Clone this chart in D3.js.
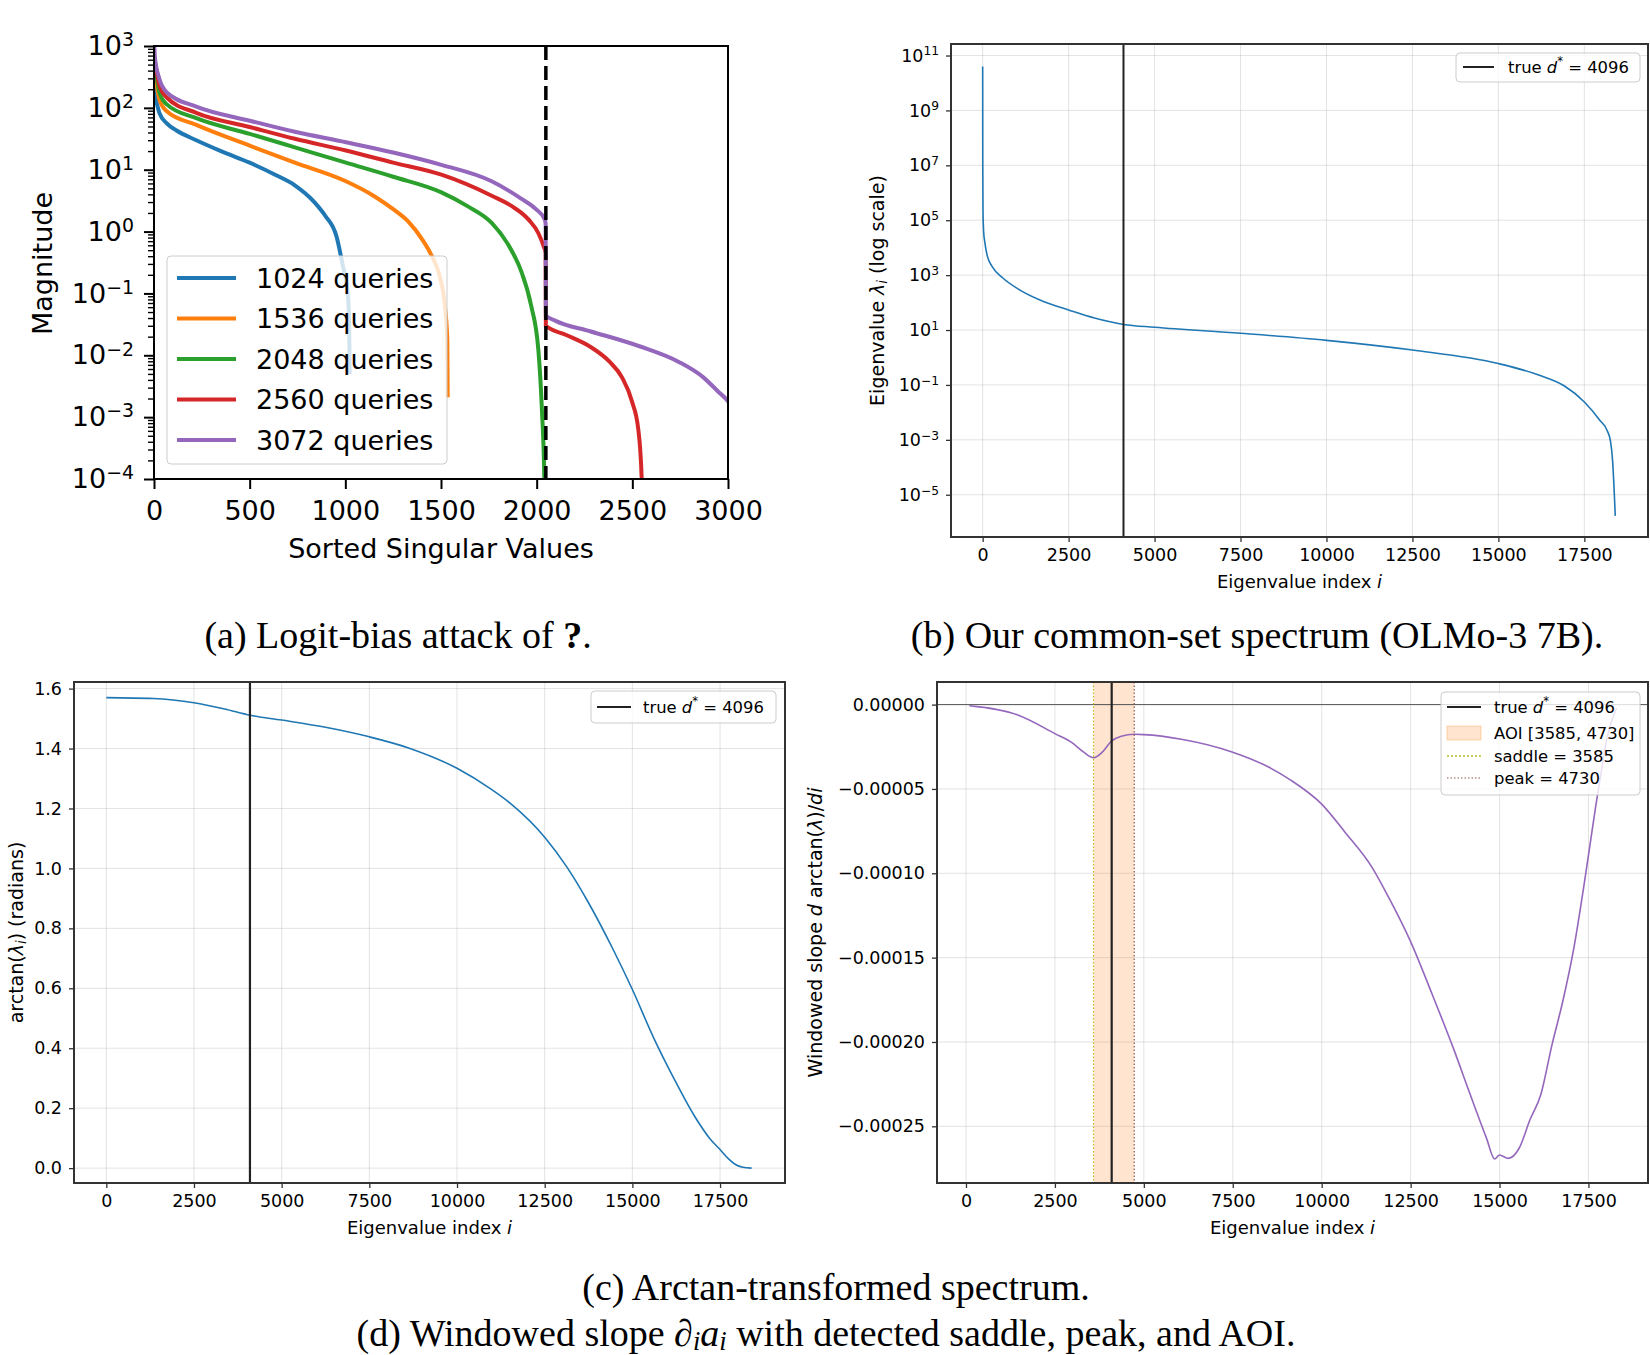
<!DOCTYPE html>
<html>
<head>
<meta charset="utf-8">
<title>Spectrum figure</title>
<script src="https://cdnjs.cloudflare.com/ajax/libs/d3/7.8.5/d3.min.js"></script>
<style>
body { margin: 0; background: #fff; }
svg { display: block; font-family: "DejaVu Sans", sans-serif; }
.grid { stroke: #b0b0b0; stroke-opacity: 0.35; stroke-width: 1; }
.cap { font-family: "Liberation Serif", "Times New Roman", serif; font-size: 38px; fill: #000; }
</style>
</head>
<body>
<svg id="fig" width="1650" height="1355"></svg>
<script>

/* ---------- data ---------- */

// (a) sorted singular values, one list of [index, magnitude] per query budget
var queryLabels = ["1024 queries", "1536 queries", "2048 queries", "2560 queries", "3072 queries"];
var queryColors = ["#1f77b4", "#ff7f0e", "#2ca02c", "#d62728", "#9467bd"];
var sv1024 = [[0,300],[5,160],[10,137],[28,83],[67,56],[118,43],[221,30],[350,20],[500,13],[633,8.3],[736,5.6],[838,3.0],[895,1.8],[954,0.83],[985,0.3],[1013,0.1],[1020,0.03],[1023,0.005]];
var sv1536 = [[0,500],[5,383],[28,137],[67,88],[221,53],[500,24.5],[736,13],[1003,6.5],[1147,3.8],[1250,2.3],[1327,1.47],[1405,0.72],[1456,0.38],[1495,0.18],[1520,0.064],[1533,0.018],[1535,0.0021]];
var sv2048 = [[0,600],[5,490],[28,178],[67,114],[221,68],[500,38],[736,23],[1003,13],[1250,7.7],[1502,4.3],[1636,2.6],[1765,1.38],[1868,0.5],[1919,0.23],[1971,0.064],[2009,0.012],[2027,0.0014],[2040,0.0001],[2047,0.000001]];
var sv2560 = [[0,700],[5,562],[28,230],[67,147],[221,83],[500,49],[736,31.6],[1003,20.4],[1250,13],[1502,8.3],[1765,3.8],[1868,2.6],[1958,1.56],[2009,0.94],[2038,0.56],[2047,0.45],[2048,0.03],[2151,0.0215],[2279,0.0138],[2382,0.0078],[2446,0.0044],[2498,0.0018],[2531,0.00064],[2549,0.0001],[2559,0.000001]];
var sv3072 = [[0,1500],[5,640],[28,295],[67,178],[221,105],[500,62],[736,41],[1003,27.8],[1250,19],[1502,12],[1765,6.5],[1919,3.4],[1996,2.3],[2043,1.56],[2047,1.3],[2048,0.044],[2099,0.036],[2279,0.0245],[2537,0.014],[2743,0.0078],[2871,0.0044],[2948,0.0026],[3000,0.0018],[3071,0.0007]];
var aXTicks = [0, 500, 1000, 1500, 2000, 2500, 3000];
var aYExps = [-4, -3, -2, -1, 0, 1, 2, 3];
var aCut = 2048;

// (b) eigenvalue spectrum [index, eigenvalue]
var eigSpectrum = [[0,4e10],[3,1e7],[10,2e5],[30,3.5e4],[59,1.7e4],[134,5e3],[282,2e3],[579,800],[1024,316],[1767,110],[2500,54],[3252,27.5],[4096,16],[5000,12.6],[7500,7.6],[10000,4.2],[12500,1.86],[15000,0.6],[16170,0.23],[16912,0.093],[17500,0.024],[17950,0.0052],[18170,0.0021],[18260,0.0009],[18320,1.9e-4],[18366,1.6e-5],[18400,1.7e-6]];
var bYExps = [11, 9, 7, 5, 3, 1, -1, -3, -5];

// (c) arctan of the spectrum [index, radians]
var arctanSpectrum = [[0,1.570],[1339,1.567],[2500,1.553],[3377,1.532],[4105,1.511],[5000,1.495],[6289,1.470],[7500,1.439],[8618,1.402],[10000,1.334],[10950,1.266],[11530,1.216],[12500,1.104],[13130,1.005],[13713,0.893],[14441,0.732],[15000,0.596],[15610,0.434],[16190,0.298],[16770,0.174],[17200,0.100],[17500,0.062],[17750,0.030],[17940,0.012],[18150,0.003],[18400,0.0]];
var cYTicks = [0, 0.2, 0.4, 0.6, 0.8, 1.0, 1.2, 1.4, 1.6];

// (d) windowed slope [index, slope]
var windowedSlope = [[95,-0.0000007],[1456,-0.0000062],[2500,-0.0000172],[2988,-0.0000227],[3300,-0.000028],[3585,-0.0000315],[3831,-0.0000282],[4091,-0.0000216],[4367,-0.0000187],[4730,-0.0000176],[5000,-0.0000178],[6053,-0.0000205],[7500,-0.0000282],[8505,-0.000037],[9118,-0.0000446],[10000,-0.000059],[10650,-0.0000755],[11416,-0.0000965],[11876,-0.000114],[12500,-0.0001405],[13100,-0.0001714],[13714,-0.0002044],[14173,-0.000231],[14633,-0.000257],[14862,-0.0002694],[15000,-0.000267],[15245,-0.000269],[15551,-0.000263],[15858,-0.000246],[16164,-0.000231],[16471,-0.000202],[16777,-0.000176],[17084,-0.000145],[17390,-0.000105],[17697,-0.0000612],[17850,-0.000041],[18004,-0.0000216],[18290,-0.000002]];
var dYTicks = [0, -0.00005, -0.0001, -0.00015, -0.0002, -0.00025];

var eigXTicks = [0, 2500, 5000, 7500, 10000, 12500, 15000, 17500];
var trueD = 4096;
var saddle = 3585, peak = 4730;

/* ---------- helpers ---------- */

var svg = d3.select("#fig");
var TICK = 17.5, TITLE_X = 18, TITLE_Y = 19, LEG = 16.4;

// text with italic / sub / sup pieces
function rich(sel, parts, fs, subK, supK) {
  var shift = 0;
  subK = subK || 0.25; supK = supK || 0.36;
  parts.forEach(function(p) {
    var ts = sel.append("tspan").text(p.t);
    var target = p.sub ? fs * subK : (p.sup ? -fs * supK : 0);
    if (target !== shift) { ts.attr("dy", target - shift); shift = target; }
    if (p.sub || p.sup) ts.style("font-size", (fs * 0.7) + "px");
    if (p.i) ts.style("font-style", "italic");
    if (p.b) ts.style("font-weight", "bold");
  });
}

function styleAxis(ax, fs, sw, col) {
  ax.attr("font-size", null).attr("font-family", null);
  ax.select(".domain").remove();
  ax.selectAll(".tick line").attr("stroke", col || "#333").attr("stroke-width", sw);
  ax.selectAll(".tick text").attr("fill", "#000").style("font-size", fs + "px");
}

function expLabel(e) { return String(e).replace("-", "\u2212"); }

function legendBox(g, x, y, w, h) {
  g.append("rect").attr("x", x).attr("y", y).attr("width", w).attr("height", h).attr("rx", 4)
    .attr("fill", "#fff").attr("fill-opacity", 0.8).attr("stroke", "#cccccc").attr("stroke-width", 1);
}

var dStar = [{t: "true "}, {t: "d", i: true}, {t: "*", sup: true}, {t: " = 4096"}];
var idxTitle = [{t: "Eigenvalue index "}, {t: "i", i: true}];

// matplotlib-like panel: grid, ticks; returns groups for drawing
function panel(p, xS, yS, xTicks, yTicks, yFmt, id) {
  var g = svg.append("g").attr("transform", "translate(" + p.x + "," + p.y + ")");
  g.append("clipPath").attr("id", id).append("rect").attr("width", p.w).attr("height", p.h);
  var grid = g.append("g");
  grid.selectAll(".gx").data(xTicks).join("line").attr("class", "grid")
    .attr("x1", function(d) { return xS(d); }).attr("x2", function(d) { return xS(d); })
    .attr("y1", 0).attr("y2", p.h);
  grid.selectAll(".gy").data(yTicks).join("line").attr("class", "grid")
    .attr("y1", function(d) { return yS(d); }).attr("y2", function(d) { return yS(d); })
    .attr("x1", 0).attr("x2", p.w);
  var data = g.append("g").attr("clip-path", "url(#" + id + ")");
  var ax = g.append("g").attr("transform", "translate(0," + p.h + ")")
    .call(d3.axisBottom(xS).tickValues(xTicks).tickFormat(d3.format("d")).tickSize(5).tickPadding(7));
  styleAxis(ax, TICK, 1.3);
  var ay = g.append("g").call(d3.axisLeft(yS).tickValues(yTicks).tickFormat(yFmt).tickSize(5).tickPadding(7));
  styleAxis(ay, TICK, 1.3);
  return {g: g, data: data, ay: ay, p: p};
}

function frame(P) {
  P.g.append("rect").attr("width", P.p.w).attr("height", P.p.h)
    .attr("fill", "none").attr("stroke", "#333").attr("stroke-width", 2);
}

function xTitle(P, parts) {
  rich(P.g.append("text").attr("x", P.p.w / 2).attr("y", P.p.h + 44)
    .attr("text-anchor", "middle").attr("dominant-baseline", "central").style("font-size", TITLE_X + "px"), parts, TITLE_X);
}

function yTitle(P, cx, parts) {
  rich(P.g.append("text").attr("transform", "translate(" + cx + "," + (P.p.h / 2) + ") rotate(-90)")
    .attr("text-anchor", "middle").attr("dominant-baseline", "central").style("font-size", TITLE_Y + "px"), parts, TITLE_Y);
}

/* ---------- (a) logit-bias attack ---------- */

var pa = {x: 154, y: 46, w: 574, h: 433};
var ga = svg.append("g").attr("transform", "translate(" + pa.x + "," + pa.y + ")");
ga.append("clipPath").attr("id", "clipA").append("rect").attr("width", pa.w).attr("height", pa.h);
var xA = d3.scaleLinear().domain([0, 3000]).range([0, pa.w]);
var yA = d3.scaleLog().domain([1e-4, 1e3]).range([pa.h, 0]);
var lineA = d3.line().x(function(d) { return xA(d[0]); }).y(function(d) { return yA(d[1]); }).curve(d3.curveMonotoneX);
var aSeries = [sv1024, sv1536, sv2048, sv2560, sv3072];

var dA = ga.append("g").attr("clip-path", "url(#clipA)");
dA.selectAll("path").data(aSeries).join("path")
  .attr("d", lineA).attr("fill", "none")
  .attr("stroke", function(d, i) { return queryColors[i]; }).attr("stroke-width", 4);
dA.append("line").attr("x1", xA(aCut)).attr("x2", xA(aCut)).attr("y1", 0).attr("y2", pa.h)
  .attr("stroke", "#000").attr("stroke-width", 3.5).attr("stroke-dasharray", "14,6");

var axA = ga.append("g").attr("transform", "translate(0," + pa.h + ")")
  .call(d3.axisBottom(xA).tickValues(aXTicks).tickFormat(d3.format("d")).tickSize(10).tickPadding(12));
styleAxis(axA, 27, 2, "#000");

var aMinor = [];
aYExps.slice(0, -1).forEach(function(e) { for (var m = 2; m < 10; m++) aMinor.push(m * Math.pow(10, e)); });
var ayMin = ga.append("g").call(d3.axisLeft(yA).tickValues(aMinor).tickFormat("").tickSize(6));
styleAxis(ayMin, 10, 1.4, "#000");
var ayA = ga.append("g").call(d3.axisLeft(yA).tickValues(aYExps.map(function(e) { return Math.pow(10, e); }))
  .tickFormat("").tickSize(10).tickPadding(10));
styleAxis(ayA, 27, 2, "#000");
ayA.selectAll(".tick text").each(function(d, i) {
  rich(d3.select(this), [{t: "10"}, {t: expLabel(aYExps[i]), sup: true}], 27, 0.25, 0.33);
});

ga.append("rect").attr("width", pa.w).attr("height", pa.h).attr("fill", "none").attr("stroke", "#000").attr("stroke-width", 2);

ga.append("text").attr("x", pa.w / 2).attr("y", 502).attr("text-anchor", "middle")
  .attr("dominant-baseline", "central").style("font-size", "27px").text("Sorted Singular Values");
ga.append("text").attr("transform", "translate(" + (42 - pa.x) + "," + (pa.h / 2 + 1) + ") rotate(-90)")
  .attr("text-anchor", "middle").attr("dominant-baseline", "central").style("font-size", "27px").text("Magnitude");

legendBox(ga, 13, 210, 280, 208);
var legA = ga.append("g").selectAll("g").data(queryLabels).join("g")
  .attr("transform", function(d, i) { return "translate(0," + (232 + i * 40.5) + ")"; });
legA.append("line").attr("x1", 23).attr("x2", 82)
  .attr("stroke", function(d, i) { return queryColors[i]; }).attr("stroke-width", 4);
legA.append("text").attr("x", 102).attr("dominant-baseline", "central").style("font-size", "27px")
  .text(function(d) { return d; });

/* ---------- (b) eigenvalue spectrum ---------- */

var pb = {x: 951, y: 44, w: 697, h: 493};
var xB = d3.scaleLinear().domain([-921, 19352]).range([0, pb.w]);
var yB = d3.scaleLog().domain([Math.pow(10, -6.54), Math.pow(10, 11.42)]).range([pb.h, 0]);
var PB = panel(pb, xB, yB, eigXTicks, bYExps.map(function(e) { return Math.pow(10, e); }), function() { return ""; }, "clipB");
PB.ay.selectAll(".tick text").each(function(d, i) {
  rich(d3.select(this), [{t: "10"}, {t: expLabel(bYExps[i]), sup: true}], TICK);
});
PB.data.append("path").datum(eigSpectrum)
  .attr("d", d3.line().x(function(d) { return xB(d[0]); }).y(function(d) { return yB(d[1]); }).curve(d3.curveMonotoneX))
  .attr("fill", "none").attr("stroke", "#1f77b4").attr("stroke-width", 1.6);
PB.data.append("line").attr("x1", xB(trueD)).attr("x2", xB(trueD)).attr("y1", 0).attr("y2", pb.h)
  .attr("stroke", "#222").attr("stroke-width", 2);
frame(PB);
xTitle(PB, idxTitle);
yTitle(PB, 877 - pb.x, [{t: "Eigenvalue "}, {t: "\u03bb", i: true}, {t: "i", i: true, sub: true}, {t: " (log scale)"}]);
legendBox(PB.g, 505, 9, 184, 29);
PB.g.append("line").attr("x1", 512).attr("x2", 543).attr("y1", 23).attr("y2", 23).attr("stroke", "#222").attr("stroke-width", 2);
rich(PB.g.append("text").attr("x", 557).attr("y", 23).attr("dominant-baseline", "central").style("font-size", LEG + "px"), dStar, LEG);

/* ---------- (c) arctan spectrum ---------- */

var pc = {x: 74, y: 682, w: 711, h: 501};
var xC = d3.scaleLinear().domain([-921, 19352]).range([0, pc.w]);
var yC = d3.scaleLinear().domain([-0.0496, 1.622]).range([pc.h, 0]);
var PC = panel(pc, xC, yC, eigXTicks, cYTicks, d3.format(".1f"), "clipC");
PC.data.append("path").datum(arctanSpectrum)
  .attr("d", d3.line().x(function(d) { return xC(d[0]); }).y(function(d) { return yC(d[1]); }).curve(d3.curveMonotoneX))
  .attr("fill", "none").attr("stroke", "#1f77b4").attr("stroke-width", 1.6);
PC.data.append("line").attr("x1", xC(trueD)).attr("x2", xC(trueD)).attr("y1", 0).attr("y2", pc.h)
  .attr("stroke", "#222").attr("stroke-width", 2.2);
frame(PC);
xTitle(PC, idxTitle);
yTitle(PC, 16 - pc.x, [{t: "arctan("}, {t: "\u03bb", i: true}, {t: "i", i: true, sub: true}, {t: ") (radians)"}]);
legendBox(PC.g, 517, 9, 185, 32);
PC.g.append("line").attr("x1", 523).attr("x2", 557).attr("y1", 25).attr("y2", 25).attr("stroke", "#222").attr("stroke-width", 2);
rich(PC.g.append("text").attr("x", 569).attr("y", 25).attr("dominant-baseline", "central").style("font-size", LEG + "px"), dStar, LEG);

/* ---------- (d) windowed slope ---------- */

var pd = {x: 937, y: 682, w: 711, h: 501};
var xD = d3.scaleLinear().domain([-815, 19174]).range([0, pd.w]);
var yD = d3.scaleLinear().domain([-0.0002836, 0.0000134]).range([pd.h, 0]);
var PD = panel(pd, xD, yD, eigXTicks, dYTicks, d3.format(".5f"), "clipD");
PD.data.append("rect").attr("x", xD(saddle)).attr("width", xD(peak) - xD(saddle)).attr("y", 0).attr("height", pd.h)
  .attr("fill", "#ff7f0e").attr("fill-opacity", 0.2);
PD.data.append("line").attr("x1", 0).attr("x2", pd.w).attr("y1", yD(0)).attr("y2", yD(0))
  .attr("stroke", "#555").attr("stroke-width", 1);
PD.data.append("path").datum(windowedSlope)
  .attr("d", d3.line().x(function(d) { return xD(d[0]); }).y(function(d) { return yD(d[1]); }).curve(d3.curveMonotoneX))
  .attr("fill", "none").attr("stroke", "#9467bd").attr("stroke-width", 1.6);
PD.data.append("line").attr("x1", xD(trueD)).attr("x2", xD(trueD)).attr("y1", 0).attr("y2", pd.h)
  .attr("stroke", "#222").attr("stroke-width", 2.2);
PD.data.append("line").attr("x1", xD(saddle)).attr("x2", xD(saddle)).attr("y1", 0).attr("y2", pd.h)
  .attr("stroke", "#bcbd22").attr("stroke-width", 1.2).attr("stroke-dasharray", "1.5,2");
PD.data.append("line").attr("x1", xD(peak)).attr("x2", xD(peak)).attr("y1", 0).attr("y2", pd.h)
  .attr("stroke", "#8c564b").attr("stroke-width", 1.2).attr("stroke-dasharray", "1.5,2");
frame(PD);
xTitle(PD, idxTitle);
yTitle(PD, 815 - pd.x, [{t: "Windowed slope "}, {t: "d", i: true}, {t: " arctan("}, {t: "\u03bb", i: true}, {t: ")/"}, {t: "di", i: true}]);

legendBox(PD.g, 504, 10, 199, 103);
var lg = PD.g.append("g");
lg.append("line").attr("x1", 510).attr("x2", 544).attr("y1", 25).attr("y2", 25).attr("stroke", "#222").attr("stroke-width", 2);
lg.append("rect").attr("x", 510).attr("y", 44).attr("width", 34).attr("height", 14)
  .attr("fill", "#ff7f0e").attr("fill-opacity", 0.2).attr("stroke", "#ff7f0e").attr("stroke-opacity", 0.3);
lg.append("line").attr("x1", 510).attr("x2", 544).attr("y1", 74).attr("y2", 74)
  .attr("stroke", "#bcbd22").attr("stroke-width", 1.5).attr("stroke-dasharray", "2,2");
lg.append("line").attr("x1", 510).attr("x2", 544).attr("y1", 96).attr("y2", 96)
  .attr("stroke", "#8c564b").attr("stroke-width", 1).attr("stroke-dasharray", "1.5,2");
rich(lg.append("text").attr("x", 557).attr("y", 25).attr("dominant-baseline", "central").style("font-size", LEG + "px"), dStar, LEG);
lg.append("text").attr("x", 557).attr("y", 51).attr("dominant-baseline", "central").style("font-size", LEG + "px").text("AOI [" + saddle + ", " + peak + "]");
lg.append("text").attr("x", 557).attr("y", 74).attr("dominant-baseline", "central").style("font-size", LEG + "px").text("saddle = " + saddle);
lg.append("text").attr("x", 557).attr("y", 96).attr("dominant-baseline", "central").style("font-size", LEG + "px").text("peak = " + peak);

/* ---------- captions ---------- */

rich(svg.append("text").attr("class", "cap").attr("x", 398).attr("y", 648).attr("text-anchor", "middle"),
  [{t: "(a) Logit-bias attack of "}, {t: "?", b: true}, {t: "."}], 38);
svg.append("text").attr("class", "cap").attr("x", 1257).attr("y", 648).attr("text-anchor", "middle")
  .text("(b) Our common-set spectrum (OLMo-3 7B).");
svg.append("text").attr("class", "cap").attr("x", 836).attr("y", 1300).attr("text-anchor", "middle")
  .text("(c) Arctan-transformed spectrum.");
rich(svg.append("text").attr("class", "cap").attr("x", 826).attr("y", 1346).attr("text-anchor", "middle"),
  [{t: "(d) Windowed slope "}, {t: "\u2202", i: true}, {t: "i", i: true, sub: true}, {t: "a", i: true}, {t: "i", i: true, sub: true},
   {t: " with detected saddle, peak, and AOI."}], 38, 0.1);

</script>
</body>
</html>
